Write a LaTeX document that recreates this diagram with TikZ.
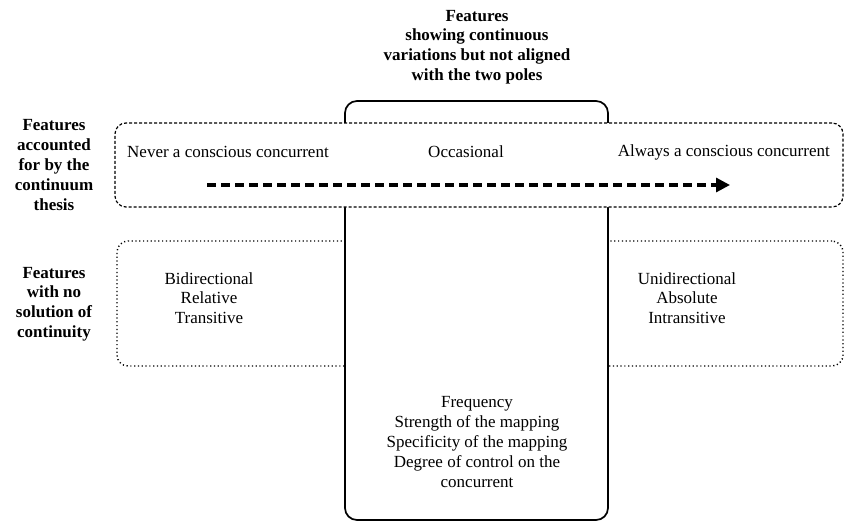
\documentclass[tikz,border=0pt]{standalone}
\usepackage{fontspec}
\setmainfont{Liberation Serif}
\usetikzlibrary{arrows.meta}
\begin{document}
\begin{tikzpicture}[x=1pt,y=-1pt,
  txt/.style={align=center,inner sep=0pt,font=\fontsize{17}{19.8}\selectfont},
  btxt/.style={txt,font=\fontsize{17}{19.8}\selectfont\bfseries},
  boxbase/.style={inner sep=0pt,outer sep=0pt},
  dotbox/.style={boxbase,draw,line width=1.4pt,dash pattern=on 1.2pt off 2.6pt,rounded corners=11pt},
  solidbox/.style={boxbase,draw,fill=white,line width=1.7pt,rounded corners=12pt},
  dashbox/.style={boxbase,draw,fill=white,line width=1.2pt,dash pattern=on 3pt off 2pt,rounded corners=11pt},
  bigarrow/.style={line width=3.2pt,dash pattern=on 9pt off 5pt,-{Triangle[length=14pt,width=14pt]}}
]
\useasboundingbox (0,0) rectangle (847,522);
% boxes
\node[dotbox,minimum width=726pt,minimum height=125pt] (dots) at (480,303.5) {};
\node[solidbox,minimum width=263pt,minimum height=419pt] (solid) at (476.5,310.5) {};
\node[dashbox,minimum width=728pt,minimum height=84pt] (dash) at (479,165) {};
% title
\node[btxt] (title) at (477,47) {Features\\showing continuous\\variations but not aligned\\with the two poles};
% left labels
\node[btxt] (lab1) at (54,165) {Features\\accounted\\for by the\\continuum\\thesis};
\node[btxt] (lab2) at (54,304) {Features\\with no\\solution of\\continuity};
% continuum row
\node[txt,anchor=west] (never) at (127,152) {Never a conscious concurrent};
\node[txt] (occ) at (466,152) {Occasional};
\node[txt,anchor=east] (always) at (830,152) {Always a conscious concurrent};
\coordinate (astart) at (207,185);
\coordinate (aend) at (730,185);
\draw[bigarrow] (astart) -- (aend);
% no continuity
\node[txt] (bidir) at (209,298) {Bidirectional\\Relative\\Transitive};
\node[txt] (unidir) at (687,298) {Unidirectional\\Absolute\\Intransitive};
% middle features
\node[txt] (mid) at (477,442) {Frequency\\Strength of the mapping\\Specificity of the mapping\\Degree of control on the\\concurrent};
\end{tikzpicture}
\end{document}
